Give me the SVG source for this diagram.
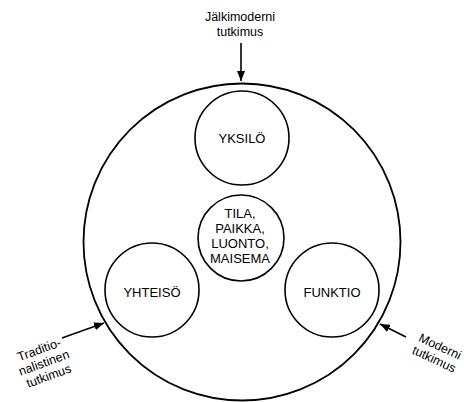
<svg xmlns="http://www.w3.org/2000/svg" width="464" height="402" viewBox="0 0 464 402">
<style>
.c{fill:none;stroke:#000;stroke-width:1.6}
.big{fill:none;stroke:#000;stroke-width:1.8}
.t{font-family:"Liberation Sans",Arial,sans-serif;font-size:12.5px;fill:#000;text-anchor:middle}
.n{font-family:"Liberation Sans",Arial,sans-serif;font-size:13px;fill:#000;text-anchor:middle}
.a{stroke:#000;stroke-width:1.6;fill:none}
</style>
<defs>
<marker id="ah" markerWidth="10" markerHeight="8" refX="10" refY="4" orient="auto" markerUnits="userSpaceOnUse">
<path d="M0,0 L10,4 L0,8 Z" fill="#000"/>
</marker>
</defs>
<rect width="464" height="402" fill="#fff"/>
<g id="outer"><circle class="big" cx="242" cy="242" r="158.5"/></g>
<g id="yksilo"><circle class="c" cx="242" cy="138" r="47"/><text class="n" x="242" y="143">YKSILÖ</text></g>
<g id="tila"><circle class="c" cx="241" cy="238" r="43"/>
<text class="n" x="240" y="218">TILA,</text>
<text class="n" x="240" y="233">PAIKKA,</text>
<text class="n" x="240" y="248">LUONTO,</text>
<text class="n" x="240" y="263">MAISEMA</text></g>
<g id="yhteiso"><circle class="c" cx="152" cy="290" r="47"/><text class="n" x="152" y="297">YHTEISÖ</text></g>
<g id="funktio"><circle class="c" cx="332" cy="290" r="47"/><text class="n" x="332" y="297">FUNKTIO</text></g>
<g id="top-label"><text class="t" x="240" y="21">Jälkimoderni</text><text class="t" x="240" y="36">tutkimus</text></g>
<g id="left-label" transform="translate(44,363) rotate(-20)"><text class="t" x="0" y="-10">Traditio-</text><text class="t" x="0" y="4">nalistinen</text><text class="t" x="0" y="18">tutkimus</text></g>
<g id="right-label" transform="translate(437,353) rotate(25)"><text class="t" x="0" y="-3">Moderni</text><text class="t" x="0" y="11">tutkimus</text></g>
<g id="connectors">
<line class="a" x1="241" y1="43" x2="241" y2="81" marker-end="url(#ah)"/>
<line class="a" x1="62" y1="338" x2="104" y2="323" marker-end="url(#ah)"/>
<line class="a" x1="406" y1="337" x2="380" y2="324" marker-end="url(#ah)"/>
</g>
</svg>
